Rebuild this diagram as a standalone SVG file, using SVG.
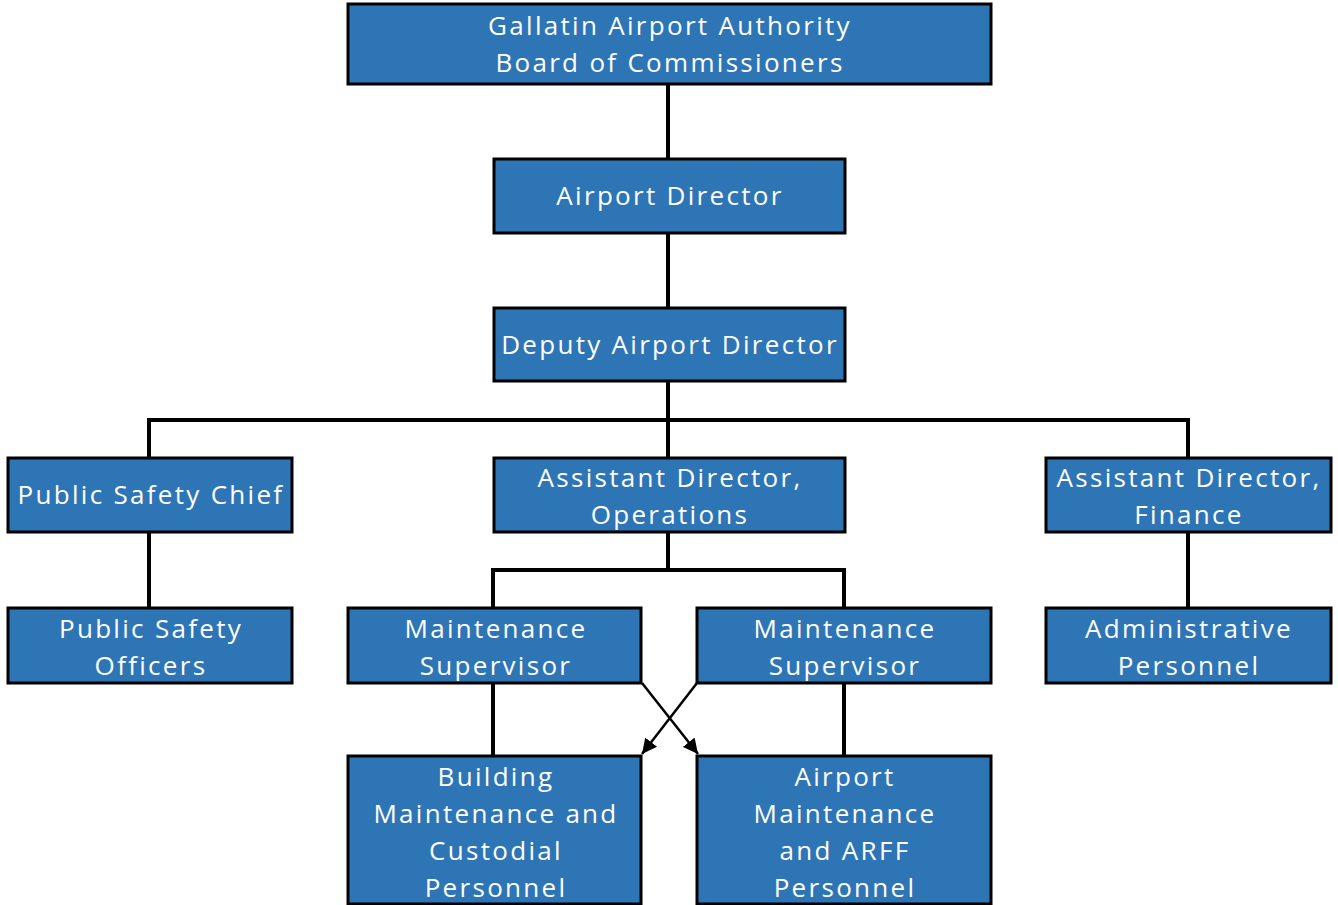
<svg xmlns="http://www.w3.org/2000/svg" width="1338" height="905" viewBox="0 0 1338 905">
<defs>
<style>
.box{fill:#2E75B6;stroke:#000;stroke-width:3}
.t{font-family:"Open Sans","Liberation Sans",sans-serif;font-size:26px;fill:#fff;text-anchor:middle;letter-spacing:2.3px}
.c{fill:none;stroke:#000;stroke-width:4}
.a{fill:none;stroke:#000;stroke-width:2.5}
</style>
<marker id="ah" viewBox="0 0 10 10" refX="10" refY="5" markerWidth="6" markerHeight="6" orient="auto" markerUnits="strokeWidth">
<path d="M0,0 L10,5 L0,10 z" fill="#000"/>
</marker>
</defs>
<rect width="1338" height="905" fill="#fff"/>
<g id="connectors">
<path class="c" d="M668,84 V159 M668,233 V308 M668,381 V458 M149,458 V420 H1188 V458 M149,532 V608 M1188,532 V608 M668,532 V570 M493,608 V570 H844 V608 M493,683 V756 M844,683 V756"/>
<line class="a" x1="642" y1="683" x2="698" y2="754" marker-end="url(#ah)"/>
<line class="a" x1="697" y1="683" x2="642" y2="754" marker-end="url(#ah)"/>
</g>
<g id="board"><rect class="box" x="348" y="4" width="643" height="80"/><text class="t" x="670" y="35">Gallatin Airport Authority</text><text class="t" x="670" y="72">Board of Commissioners</text></g>
<g id="director"><rect class="box" x="494" y="159" width="351" height="74"/><text class="t" x="670" y="205">Airport Director</text></g>
<g id="deputy"><rect class="box" x="494" y="308" width="351" height="73"/><text class="t" x="670" y="354">Deputy Airport Director</text></g>
<g id="psc"><rect class="box" x="8" y="458" width="284" height="74"/><text class="t" x="151" y="504">Public Safety Chief</text></g>
<g id="ado"><rect class="box" x="494" y="458" width="351" height="74"/><text class="t" x="670" y="487">Assistant Director,</text><text class="t" x="670" y="524">Operations</text></g>
<g id="adf"><rect class="box" x="1046" y="458" width="285" height="74"/><text class="t" x="1189" y="487">Assistant Director,</text><text class="t" x="1189" y="524">Finance</text></g>
<g id="pso"><rect class="box" x="8" y="608" width="284" height="75"/><text class="t" x="151" y="638">Public Safety</text><text class="t" x="151" y="675">Officers</text></g>
<g id="ms1"><rect class="box" x="348" y="608" width="293" height="75"/><text class="t" x="496" y="638">Maintenance</text><text class="t" x="496" y="675">Supervisor</text></g>
<g id="ms2"><rect class="box" x="697" y="608" width="294" height="75"/><text class="t" x="845" y="638">Maintenance</text><text class="t" x="845" y="675">Supervisor</text></g>
<g id="admin"><rect class="box" x="1046" y="608" width="285" height="75"/><text class="t" x="1189" y="638">Administrative</text><text class="t" x="1189" y="675">Personnel</text></g>
<g id="bldg"><rect class="box" x="348" y="756" width="293" height="148"/><text class="t" x="496" y="786">Building</text><text class="t" x="496" y="823">Maintenance and</text><text class="t" x="496" y="860">Custodial</text><text class="t" x="496" y="897">Personnel</text></g>
<g id="apt"><rect class="box" x="697" y="756" width="294" height="148"/><text class="t" x="845" y="786">Airport</text><text class="t" x="845" y="823">Maintenance</text><text class="t" x="845" y="860">and ARFF</text><text class="t" x="845" y="897">Personnel</text></g>
</svg>
